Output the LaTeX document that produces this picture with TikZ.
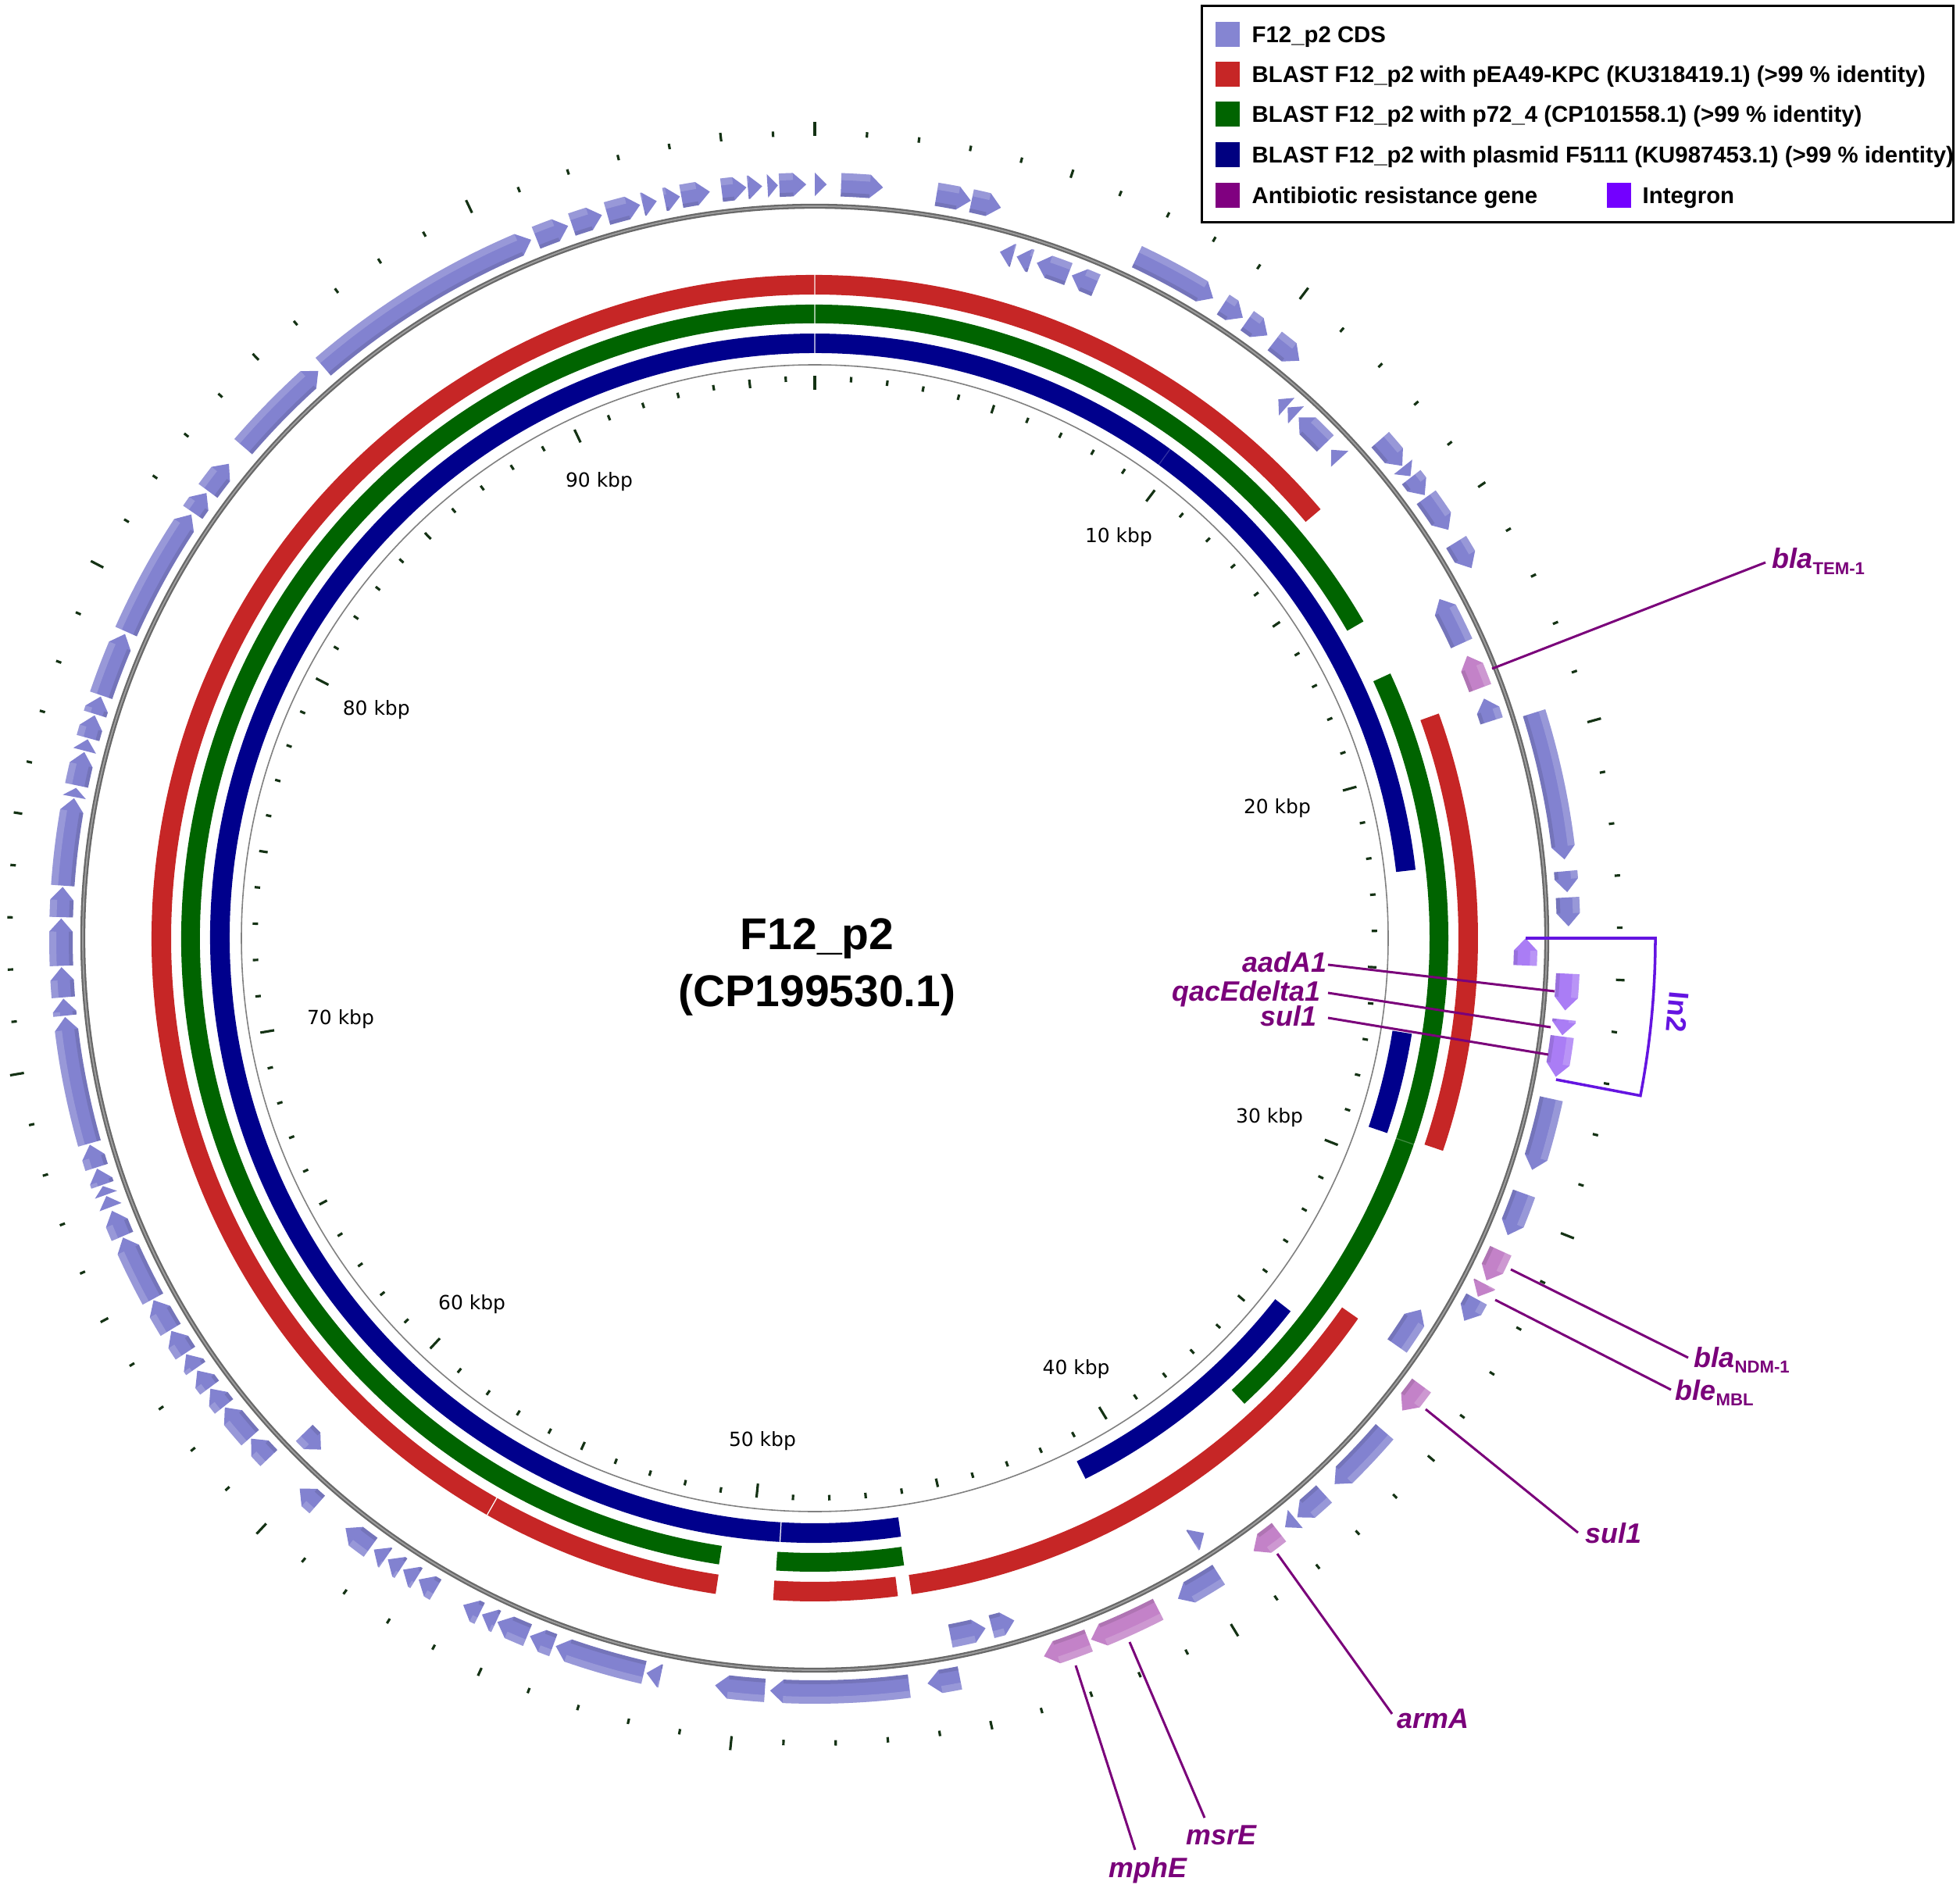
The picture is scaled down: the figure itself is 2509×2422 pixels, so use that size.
\documentclass[tikz,border=0pt]{standalone}
\usepackage{fontspec}
\setmainfont{Liberation Sans}
\newfontfamily\dejavu{DejaVu Sans}
\definecolor{cdsfillc}{RGB}{130,130,208}
\definecolor{resfillc}{RGB}{195,130,200}
\definecolor{intfillc}{RGB}{170,125,245}
\definecolor{blastred}{RGB}{198,38,38}
\definecolor{blastgreen}{RGB}{0,100,0}
\definecolor{blastblue}{RGB}{0,0,140}
\definecolor{leadpurple}{RGB}{122,0,122}
\definecolor{intline}{RGB}{100,20,225}
\definecolor{tickc}{RGB}{20,50,20}
\definecolor{ringgray}{RGB}{105,105,105}
\definecolor{legcds}{RGB}{133,133,210}
\definecolor{legnavy}{RGB}{0,0,128}
\definecolor{legpurple}{RGB}{128,0,128}
\definecolor{leginteg}{RGB}{115,0,255}

% gene arrow: #1 start angle, #2 end angle (clockwise degrees from top), #3 r in, #4 r out, #5 1=clockwise 0=counterclockwise, #6 fill colour
\newcommand\garrow[6]{%
  \pgfmathsetmacro\gA{90-#1}%
  \pgfmathsetmacro\gB{90-#2}%
  \pgfmathsetmacro\gM{(#3+#4)/2}%
  \pgfmathsetmacro\gS{#4-9}%
  \pgfmathsetmacro\gT{#3+5}%
  \ifnum#5=1
    \pgfmathsetmacro\gC{min(\gA,\gB+1.0)}%
    \fill[#6] (\gA:#4) arc[start angle=\gA, end angle=\gC, radius=#4] -- (\gB:\gM) -- (\gC:#3) arc[start angle=\gC, end angle=\gA, radius=#3] -- cycle;
    \fill[white, opacity=0.18] (\gA:#4) arc[start angle=\gA, end angle=\gC, radius=#4] -- (\gC:\gS) arc[start angle=\gC, end angle=\gA, radius=\gS] -- cycle;
    \fill[black, opacity=0.10] (\gA:\gT) arc[start angle=\gA, end angle=\gC, radius=\gT] -- (\gC:#3) arc[start angle=\gC, end angle=\gA, radius=#3] -- cycle;
  \else
    \pgfmathsetmacro\gC{max(\gB,\gA-1.0)}%
    \fill[#6] (\gB:#4) arc[start angle=\gB, end angle=\gC, radius=#4] -- (\gA:\gM) -- (\gC:#3) arc[start angle=\gC, end angle=\gB, radius=#3] -- cycle;
    \fill[white, opacity=0.18] (\gB:#4) arc[start angle=\gB, end angle=\gC, radius=#4] -- (\gC:\gS) arc[start angle=\gC, end angle=\gB, radius=\gS] -- cycle;
    \fill[black, opacity=0.10] (\gB:\gT) arc[start angle=\gB, end angle=\gC, radius=\gT] -- (\gC:#3) arc[start angle=\gC, end angle=\gB, radius=#3] -- cycle;
  \fi
}
\newcommand\cdsF[3]{\garrow{#1}{#2}{950}{980}{1}{#3}}
\newcommand\cdsR[3]{\garrow{#1}{#2}{895}{925}{0}{#3}}
% BLAST band: #1 start, #2 end, #3 r in, #4 r out, #5 colour
\newcommand\bandarc[5]{%
  \pgfmathsetmacro\bA{90-#1}%
  \pgfmathsetmacro\bB{90-#2}%
  \fill[#5] (\bA:#4) arc[start angle=\bA, end angle=\bB, radius=#4] -- (\bB:#3) arc[start angle=\bB, end angle=\bA, radius=#3] -- cycle;}
\newcommand\seamline[4]{%
  \pgfmathsetmacro\sA{90-#1}%
  \draw[white, line width=0.35pt, opacity=#4] (\sA:#2) -- (\sA:#3);}

\tikzset{
  lead/.style={draw=leadpurple, line width=0.85pt},
  genelbl/.style={text=leadpurple, font=\bfseries\itshape\fontsize{10.2}{12}\selectfont, inner sep=0pt},
  ticklbl/.style={font={\dejavu\fontsize{7.1}{8.5}\selectfont}, inner sep=0pt},
  legtext/.style={font=\bfseries\fontsize{8.35}{10}\selectfont, inner sep=0pt},
  legsq/.style={minimum width=0.31cm, minimum height=0.32cm, inner sep=0pt, outer sep=0pt},
  titletext/.style={font=\bfseries\fontsize{16.2}{19}\selectfont, inner sep=0pt}
}

\begin{document}
\begin{tikzpicture}[x=0.01cm, y=0.01cm]
\useasboundingbox (0,0) rectangle (2509,-2422);
\fill[white] (0,0) rectangle (2509,-2422);

\begin{scope}[shift={(1043,-1201)}]
  % BLAST bands
  \bandarc{188.6}{409.7}{824}{849}{blastred}
  \bandarc{70.2}{108.7}{824}{849}{blastred}
  \bandarc{125.0}{171.6}{824}{849}{blastred}
  \bandarc{172.8}{183.6}{824}{849}{blastred}
  \seamline{209.6}{822}{851}{1}
  \seamline{0}{822}{851}{0.6}
  \bandarc{188.7}{420.0}{787}{811}{blastgreen}
  \bandarc{65.3}{137.3}{787}{811}{blastgreen}
  \bandarc{171.9}{183.5}{787}{811}{blastgreen}
  \seamline{0}{785}{813}{0.6}
  \seamline{109}{785}{813}{0.25}
  \bandarc{171.8}{443.5}{749}{774}{blastblue}
  \bandarc{99.1}{108.8}{749}{774}{blastblue}
  \bandarc{128.1}{153.4}{749}{774}{blastblue}
  \seamline{183.3}{747}{776}{1}
  \seamline{0}{747}{776}{0.6}
  \seamline{36}{747}{776}{0.2}

  % backbone circles
  \draw[ringgray, line width=1.8pt] (0,0) circle[radius=937];
  \draw[gray!75, line width=0.5pt] (0,0) circle[radius=937];
  \draw[gray, line width=0.45pt] (0,0) circle[radius=734];

  % ticks
  \foreach \k in {0,...,96}{
    \pgfmathsetmacro\tang{90-\k*3.719}
    \pgfmathsetmacro\tl{ifthenelse(mod(\k,10)==0,18,ifthenelse(mod(\k,5)==0,11,7))}
    \pgfmathsetmacro\tro{1027+\tl}
    \pgfmathsetmacro\tri{720-\tl}
    \draw[tickc, line width=0.9pt] (\tang:1027) -- (\tang:\tro);
    \draw[tickc, line width=0.9pt] (\tang:720) -- (\tang:\tri);
  }
  \foreach \n in {1,...,9}{
    \pgfmathsetmacro\lang{90-\n*37.19}
    \pgfmathtruncatemacro\lanc{mod(90-\n*37.19+720,360)}
    \node[ticklbl, anchor=\lanc] (kb\n) at (\lang:660) {\n0 kbp};
  }

  % CDS, outer ring (clockwise)
  \foreach \a/\b in {0.0/0.9, 2.0/5.2, 9.3/11.95, 12.0/14.3, 25.3/31.9, 32.8/34.6, 35.0/36.9, 37.6/40.0, 48.6/51.2, 51.3/52.2, 52.3/54.0, 54.2/57.2, 58.3/60.6, 72.6/84.0, 84.9/86.5, 86.9/89.1, 102.3/107.9, 109.8/113.2, 118.6/120.5, 130.9/136.4, 137.5/140.2, 140.4/141.4, 147.6/151.2, 168.9/171.4, 172.8/183.4, 183.8/187.6, 191.8/192.9, 193.1/200.1, 200.3/202.2, 202.4/204.9, 205.0/206.2, 206.4/207.8, 210.2/211.7, 211.9/213.1, 213.3/214.5, 214.7/215.8, 216.1/218.5, 221.3/223.1, 226.4/228.4, 228.5/231.5, 231.6/233.3, 233.4/235.0, 235.2/236.5, 236.6/238.6, 238.7/241.3, 241.4/246.6, 246.7/248.8, 249.1/250.0, 250.1/250.8, 250.9/252.2, 252.3/254.1, 254.2/264.0, 264.1/265.4, 265.5/267.8, 267.9/271.5, 271.6/273.9, 274.0/280.7, 280.8/281.5, 281.7/284.3, 284.4/285.3, 285.4/287.2, 287.3/288.7, 288.8/293.8, 294.0/304.2, 304.4/306.2, 306.4/309.0, 310.7/318.8, 319.3/337.9, 338.3/340.9, 341.2/343.6, 344.0/346.6, 346.8/347.9, 348.5/349.7, 349.8/352.0, 352.9/354.8, 354.9/356.0, 356.4/357.2, 357.3/359.35}
    {\cdsF{\a}{\b}{cdsfillc}}
  \foreach \a/\b in {114.5/117.0, 117.3/118.4, 126.4/128.8, 142.0/144.4, 152.9/158.5, 158.7/162.3}
    {\cdsF{\a}{\b}{resfillc}}
  \foreach \a/\b in {92.7/95.5, 96.2/97.4, 97.5/100.6}
    {\cdsF{\a}{\b}{intfillc}}
  % CDS, inner ring (counterclockwise)
  \foreach \a/\b in {15.1/16.2, 16.5/17.7, 18.2/20.9, 21.2/23.3, 40.7/41.6, 41.7/42.6, 42.9/45.9, 46.6/47.6, 61.5/65.5, 70.3/72.2, 121.5/125.0, 146.8/147.9, 163.7/165.6, 166.1/169.0, 224.0/225.9}
    {\cdsR{\a}{\b}{cdsfillc}}
  \cdsR{66.6}{69.4}{resfillc}
  \cdsR{90.0}{92.2}{intfillc}

  % In2 bracket
  \coordinate (in2a) at (0:910);
  \coordinate (in2b) at (-10.8:966);
  \draw[intline, line width=1pt] (in2a) -- (0:1076) arc[start angle=0, end angle=-10.8, radius=1076] -- (in2b);
  \node[text=intline, font=\bfseries\fontsize{10.2}{12}\selectfont, rotate=-95, inner sep=0pt] (in2) at (-4.9:1109) {In2};
\end{scope}

% title
\node[titletext, anchor=base] (title1) at (1046,-1215) {F12\_p2};
\node[titletext, anchor=base] (title2) at (1046,-1288) {(CP199530.1)};

% gene labels
\node[genelbl, anchor=base west] (tem) at (2268,-728) {bla\raisebox{-2pt}{\upshape\fontsize{6.3}{7}\selectfont TEM-1}};
\node[genelbl, anchor=base west] (ndm) at (2168,-1750) {bla\raisebox{-2pt}{\upshape\fontsize{6.3}{7}\selectfont NDM-1}};
\node[genelbl, anchor=base west] (mbl) at (2144,-1792) {ble\raisebox{-2pt}{\upshape\fontsize{6.3}{7}\selectfont MBL}};
\node[genelbl, anchor=base west] (sulo) at (2029,-1975) {sul1};
\node[genelbl, anchor=base west] (arma) at (1788,-2212) {armA};
\node[genelbl, anchor=base west] (msre) at (1518,-2361) {msrE};
\node[genelbl, anchor=base west] (mphe) at (1419,-2403) {mphE};
\node[genelbl, anchor=base east] (aada) at (1699,-1244) {aadA1};
\node[genelbl, anchor=base east] (qace) at (1691,-1281) {qacEdelta1};
\node[genelbl, anchor=base east] (suli) at (1686,-1313) {sul1};

% leader lines
\coordinate (temg) at (1910,-856);   \coordinate (teml) at (2260,-720);
\coordinate (ndmg) at (1934,-1625);  \coordinate (ndml) at (2161,-1738);
\coordinate (mblg) at (1914,-1664);  \coordinate (mbll) at (2139,-1779);
\coordinate (sulg) at (1825,-1804);  \coordinate (sull) at (2020,-1962);
\coordinate (armg) at (1635,-1989);  \coordinate (arml) at (1782,-2194);
\coordinate (mphg) at (1377,-2132);  \coordinate (mphl) at (1453,-2368);
\coordinate (msrg) at (1446,-2102);  \coordinate (msrl) at (1542,-2327);
\coordinate (aadl) at (1700,-1235);  \coordinate (aadg) at (1990,-1269);
\coordinate (qacl) at (1700,-1271);  \coordinate (qacg) at (1985,-1315);
\coordinate (suil) at (1700,-1303);  \coordinate (suig) at (1982,-1350);
\draw[lead] (temg) -- (teml);
\draw[lead] (ndmg) -- (ndml);
\draw[lead] (mblg) -- (mbll);
\draw[lead] (sulg) -- (sull);
\draw[lead] (armg) -- (arml);
\draw[lead] (mphg) -- (mphl);
\draw[lead] (msrg) -- (msrl);
\draw[lead] (aadl) -- (aadg);
\draw[lead] (qacl) -- (qacg);
\draw[lead] (suil) -- (suig);

% legend
\draw[black, line width=0.85pt] (1538,-8) rectangle (2500,-285);
\node[legsq, fill=legcds] (sq1) at (1571.5,-44) {};
\node[legsq, fill=blastred] (sq2) at (1571.5,-95) {};
\node[legsq, fill=blastgreen] (sq3) at (1571.5,-146) {};
\node[legsq, fill=legnavy] (sq4) at (1571.5,-198) {};
\node[legsq, fill=legpurple] (sq5) at (1571.5,-250) {};
\node[legsq, fill=leginteg] (sq6) at (2072.5,-250) {};
\node[legtext, anchor=base west] (lt1) at (1602,-55) {F12\_p2 CDS};
\node[legtext, anchor=base west] (lt2) at (1602,-106) {BLAST F12\_p2 with pEA49-KPC (KU318419.1) (>99 \% identity)};
\node[legtext, anchor=base west] (lt3) at (1602,-157) {BLAST F12\_p2 with p72\_4 (CP101558.1) (>99 \% identity)};
\node[legtext, anchor=base west] (lt4) at (1602,-209) {BLAST F12\_p2 with plasmid F5111 (KU987453.1) (>99 \% identity)};
\node[legtext, anchor=base west] (lt5) at (1602,-261) {Antibiotic resistance gene};
\node[legtext, anchor=base west] (lt6) at (2102,-261) {Integron};
\end{tikzpicture}
\end{document}
